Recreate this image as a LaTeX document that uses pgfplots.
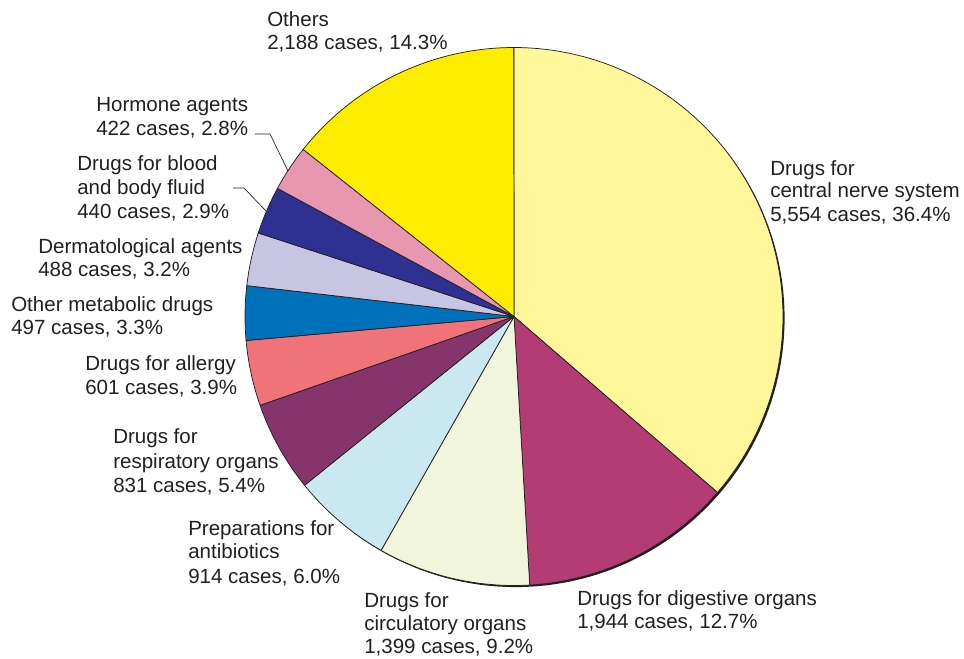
\documentclass[border=0pt]{standalone}
\usepackage{pgfplots}
\pgfplotsset{compat=1.18}
\usepackage{fontspec}
\setmainfont{Liberation Sans}
\definecolor{cCNS}{HTML}{FFF799}
\definecolor{cDig}{HTML}{B33C74}
\definecolor{cCirc}{HTML}{F1F5DC}
\definecolor{cAnti}{HTML}{C9E8EF}
\definecolor{cResp}{HTML}{85356B}
\definecolor{cAll}{HTML}{F07379}
\definecolor{cMet}{HTML}{0072BC}
\definecolor{cDerm}{HTML}{C7C5E2}
\definecolor{cBlood}{HTML}{2E3192}
\definecolor{cHorm}{HTML}{E897B0}
\definecolor{cOth}{HTML}{FFED00}
\definecolor{txt}{HTML}{231F20}
\newcommand{\lbl}{\fontsize{15.4pt}{18pt}\selectfont\color{txt}}
% total of all cases
\def\total{15278}
\def\cx{514}
\def\cy{341.5}
\def\rr{269}
% #1 cumulative start, #2 count, #3 colour
\newcommand{\slice}[3]{%
  \pgfmathsetmacro\sa{90-#1*(360/\total)}%
  \pgfmathsetmacro\sb{90-(#1+#2)*(360/\total)}%
  \edef\temp{\noexpand\addplot[fill=#3, draw=txt, line width=0.55pt, line join=round, domain=\sb:\sa, samples=80]
    ({\cx+\rr*cos(x)},{\cy+\rr*sin(x)}) -- (\cx,\cy) -- cycle;}%
  \temp
}
\newcommand{\lab}[3]{\node[anchor=base west, font=\lbl, inner sep=0pt] at (axis cs:#1,{658-#2}) {#3};}
\begin{document}
\begin{tikzpicture}
\begin{axis}[
  x=0.75pt, y=0.75pt,
  xmin=0, xmax=964, ymin=0, ymax=658,
  hide axis, clip=false,
]
% shadow rim
\addplot[fill=txt, draw=none, domain=0:360, samples=200] ({\cx+1.6+\rr*cos(x)},{\cy-1.6+\rr*sin(x)}) -- cycle;
\slice{0}{5554}{cCNS}
\slice{5554}{1944}{cDig}
\slice{7498}{1399}{cCirc}
\slice{8897}{914}{cAnti}
\slice{9811}{831}{cResp}
\slice{10642}{601}{cAll}
\slice{11243}{497}{cMet}
\slice{11740}{488}{cDerm}
\slice{12228}{440}{cBlood}
\slice{12668}{422}{cHorm}
\slice{13090}{2188}{cOth}
% leader lines
\addplot[txt, line width=0.5pt] coordinates {(255,{658-134}) (270,{658-134}) (288,{658-171})};
\addplot[txt, line width=0.5pt] coordinates {(233,{658-188}) (244,{658-188}) (266,{658-211})};
% labels
\lab{267}{27}{Others}
\lab{267}{50}{2,188 cases, 14.3\%}
\lab{96}{112}{Hormone agents}
\lab{96}{136}{422 cases, 2.8\%}
\lab{77}{171}{Drugs for blood}
\lab{77}{194}{and body fluid}
\lab{77}{218}{440 cases, 2.9\%}
\lab{38}{253}{Dermatological agents}
\lab{38}{276}{488 cases, 3.2\%}
\lab{11}{311}{Other metabolic drugs}
\lab{11}{334}{497 cases, 3.3\%}
\lab{85}{370}{Drugs for allergy}
\lab{85}{394}{601 cases, 3.9\%}
\lab{113}{443}{Drugs for}
\lab{113}{468}{respiratory organs}
\lab{113}{492}{831 cases, 5.4\%}
\lab{188}{535}{Preparations for}
\lab{188}{558}{antibiotics}
\lab{188}{583}{914 cases, 6.0\%}
\lab{364}{607}{Drugs for}
\lab{364}{630}{circulatory organs}
\lab{364}{653}{1,399 cases, 9.2\%}
\lab{577}{605}{Drugs for digestive organs}
\lab{577}{628}{1,944 cases, 12.7\%}
\lab{770}{175}{Drugs for}
\lab{770}{198}{central nerve system}
\lab{770}{222}{5,554 cases, 36.4\%}
\end{axis}
\pgfresetboundingbox
\useasboundingbox (0,0) rectangle (723pt,493.5pt);
\end{tikzpicture}
\end{document}
